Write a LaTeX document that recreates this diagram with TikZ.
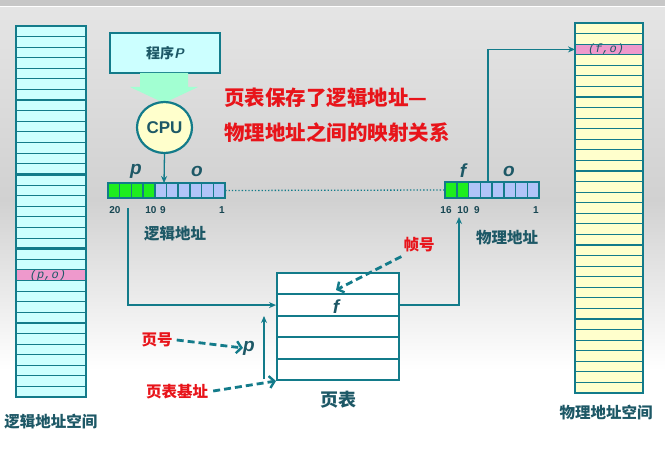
\documentclass[tikz,border=0pt]{standalone}
\usepackage{fontspec}
\setmainfont{Liberation Sans}
\newfontfamily\cjk{Noto Sans CJK SC}
\newfontfamily\monof{Liberation Mono}
\usetikzlibrary{shapes.geometric,arrows.meta}
\definecolor{teal1}{HTML}{137B8A}
\definecolor{txt}{HTML}{1D5866}
\definecolor{cyanfill}{HTML}{CCFFFF}
\definecolor{yelfill}{HTML}{FFFFCC}
\definecolor{pinkfill}{HTML}{EE99CC}
\definecolor{gcell}{HTML}{1EEE1E}
\definecolor{bcell}{HTML}{B0C4F8}
\definecolor{redt}{HTML}{E8141A}
\definecolor{mint}{HTML}{A2FFD2}
\tikzset{
  thin/.style={draw=teal1,line width=1pt},
  thick/.style={draw=teal1,line width=2.6pt},
  cellg/.style={fill=gcell,draw=teal1,line width=1.5pt},
  cellb/.style={fill=bcell,draw=teal1,line width=1.5pt},
  conn/.style={draw=teal1,line width=1.3pt,-{Stealth[length=7pt,width=6pt]}},
  dconn/.style={draw=teal1,line width=2.8pt,dash pattern=on 7pt off 4pt,-{Straight Barb[length=5pt,width=12pt,line width=2.4pt]}},
  lab/.style={font=\cjk\bfseries\fontsize{15.5}{18}\selectfont,text=txt,inner sep=0pt},
  redlab/.style={font=\cjk\bfseries\fontsize{15.5}{18}\selectfont,text=redt,inner sep=0pt},
  num/.style={font=\bfseries\fontsize{10}{12}\selectfont,text=txt!80!black,inner sep=0pt},
  var/.style={font=\bfseries\itshape\fontsize{19}{20}\selectfont,text=txt,inner sep=0pt},
  mono/.style={font=\monof\itshape\fontsize{12}{13}\selectfont,text=txt,inner sep=0pt},
  ptrow/.style={draw=teal1,line width=2pt,fill=white,minimum width=122pt,minimum height=21.4pt,inner sep=0pt,anchor=north west},
}
\begin{document}
\begin{tikzpicture}[x=1pt,y=-1pt]
\useasboundingbox (0,0) rectangle (665,460);
% background
\shade[top color=black!10,bottom color=black!18] (0,0) rectangle (665,200);
\shade[top color=black!18,bottom color=white] (0,200) rectangle (665,370);
\fill[white] (0,370) rectangle (665,460);
\fill[black!22] (0,0) rectangle (665,6);
\draw[white,line width=1pt] (0,7) -- (665,7);

% ---------- left column (logical address space)
\fill[cyanfill] (16,26) rectangle (86,397);
\fill[pinkfill] (16,{26+23*10.6}) rectangle (86,{26+24*10.6});
\node[mono] (po) at (48,{26+23.5*10.6}) {(p,o)};
\foreach \i in {1,...,34}{
  \pgfmathtruncatemacro\m{mod(\i,7)}
  \ifnum\m=0 \draw[thick] (16,{26+\i*10.6}) -- (86,{26+\i*10.6});
  \else \draw[thin] (16,{26+\i*10.6}) -- (86,{26+\i*10.6}); \fi
}
\node[draw=teal1,line width=2.4pt,inner sep=0pt,minimum width=70pt,minimum height=371pt] (lcol) at (51,211.5) {};
\node[lab] (lcolt) at (51,422) {逻辑地址空间};

% ---------- right column (physical address space)
\fill[yelfill] (575,23) rectangle (643,393);
\fill[pinkfill] (575,{23+2*10.57}) rectangle (643,{23+3*10.57});
\node[mono] (fo) at (606,{23+2.5*10.57}) {(f,o)};
\coordinate (forow) at (575,{23+2.5*10.57});
\foreach \i in {1,...,34}{
  \pgfmathtruncatemacro\m{mod(\i,7)}
  \ifnum\m=0 \draw[thick] (575,{23+\i*10.57}) -- (643,{23+\i*10.57});
  \else \draw[thin] (575,{23+\i*10.57}) -- (643,{23+\i*10.57}); \fi
}
\node[draw=teal1,line width=2.4pt,inner sep=0pt,minimum width=68pt,minimum height=370pt] (rcol) at (609,208) {};
\node[lab] (rcolt) at (606,413) {物理地址空间};

% ---------- program P and CPU
\node[draw=teal1,fill=cyanfill,line width=2pt,minimum width=110pt,minimum height=40pt,inner sep=0pt] (prog) at (165,53)
  {\cjk\bfseries\fontsize{14}{16}\selectfont\textcolor{txt}{程序}\textcolor{txt}{\sffamily\itshape P}};
\fill[mint] (140,73) -- (188,73) -- (188,87) -- (198,87) -- (164,103) -- (130,87) -- (140,87) -- cycle;
\node[ellipse,draw=teal1,fill=yelfill,line width=2.2pt,minimum width=55pt,minimum height=51pt,inner sep=0pt,
  font=\bfseries\fontsize{17}{18}\selectfont,text=txt] (cpu) at (164.5,127.5) {CPU};

% ---------- red caption
\node[font=\cjk\bfseries\fontsize{20.5}{24}\selectfont,text=redt,anchor=west,inner sep=0pt] (cap1) at (224,98) {页表保存了逻辑地址—};
\node[font=\cjk\bfseries\fontsize{20.5}{24}\selectfont,text=redt,anchor=west,inner sep=0pt] (cap2) at (224,133) {物理地址之间的映射关系};

% ---------- logical address register
\foreach \k in {0,...,3}{\draw[cellg] ({108+\k*11.7},183) rectangle ({108+(\k+1)*11.7},198);}
\foreach \k in {4,...,9}{\draw[cellb] ({108+\k*11.7},183) rectangle ({108+(\k+1)*11.7},198);}
\node[inner sep=0pt,minimum width=117pt,minimum height=15pt] (lreg) at (166.5,190.5) {};
\coordinate (cpuin) at (164,183);
\draw[conn] (cpu.south) -- (cpuin);
\node[var] (lp) at (136,171) {p};
\node[var] (lo) at (197,171) {o};
\node[num] (n20) at (115,210) {20};
\node[num] (n10) at (151,210) {10};
\node[num] (n9) at (163,210) {9};
\node[num] (n1) at (222,210) {1};
\node[lab] (lregt) at (175,234) {逻辑地址};

% ---------- physical address register
\foreach \k in {0,...,1}{\draw[cellg] ({445+\k*11.75},182) rectangle ({445+(\k+1)*11.75},198);}
\foreach \k in {2,...,7}{\draw[cellb] ({445+\k*11.75},182) rectangle ({445+(\k+1)*11.75},198);}
\node[inner sep=0pt,minimum width=94pt,minimum height=16pt] (preg) at (492,190) {};
\draw[teal1,line width=1.3pt,dotted] (lreg.east) -- (preg.west);
\node[var] (pf) at (463,171) {f};
\node[var] (po2) at (509,171) {o};
\node[num] (m16) at (446,210) {16};
\node[num] (m10) at (463,210) {10};
\node[num] (m9) at (477,210) {9};
\node[num] (m1) at (536,210) {1};
\node[lab] (pregt) at (507,238) {物理地址};

% ---------- page table
\node[ptrow] (r1) at (276,272) {};
\node[ptrow] (r2) at (276,293.4) {};
\node[ptrow] (r3) at (276,314.8) {};
\node[ptrow] (r4) at (276,336.2) {};
\node[ptrow] (r5) at (276,357.6) {};
\node[var] (tf) at (336,307) {f};
\node[font=\cjk\bfseries\fontsize{18}{20}\selectfont,text=txt,inner sep=0pt] (ptt) at (338,400) {页表};

% connectors
\coordinate (lout) at (128,208);
\draw[conn] (lout) |- (r2.west);
\coordinate (pin) at (459,217);
\draw[conn] (r2.east) -| (pin);
\coordinate (pout) at (488,182);
\draw[conn] (pout) |- (forow);
\coordinate (bb) at (264,379);
\coordinate (bt) at (264,316);
\draw[conn] (bb) -- (bt);

% annotations
\node[redlab] (zh) at (419,245) {帧号};
\node[redlab] (ym) at (157,340) {页号};
\node[var] (tp) at (249,348) {p};
\node[redlab] (jz) at (177,392) {页表基址};
\coordinate (zht) at (336,290);
\draw[dconn] (zh.south west) ++(-2,4) -- (zht);
\draw[dconn] (ym.east) ++(4,0) -- (tp.west);
\draw[dconn] (jz.east) ++(5,-1) -- (r5.south west);
\end{tikzpicture}
\end{document}
